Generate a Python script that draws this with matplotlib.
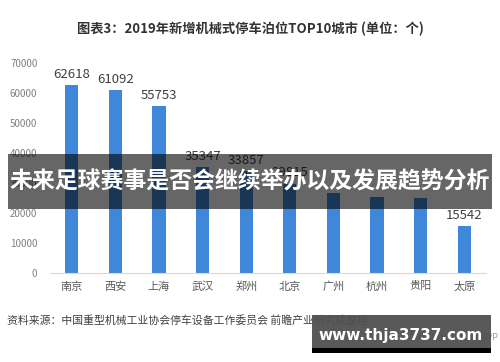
import matplotlib
matplotlib.use("Agg")
import matplotlib.pyplot as plt
from matplotlib.patches import Rectangle

plt.rcParams['font.family'] = ['Noto Sans CJK SC', 'DejaVu Sans']

cities = ["南京", "西安", "上海", "武汉", "郑州", "北京", "广州", "杭州", "贵阳", "太原"]
values = [62618, 61092, 55753, 35347, 33857, 29815, 26500, 25300, 25100, 15542]
label_shown = [True, True, True, True, True, True, False, False, False, True]
yticks = [0, 10000, 20000, 30000, 40000, 50000, 60000, 70000]

title = "图表3：2019年新增机械式停车泊位TOP10城市 (单位：个)"
source = "资料来源：中国重型机械工业协会停车设备工作委员会 前瞻产业研究院整理"
banner = "未来足球赛事是否会继续举办以及发展趋势分析"
watermark = "www.thja3737.com"

fig = plt.figure(figsize=(5, 3.62), dpi=100)
fig.patch.set_facecolor("white")
ax = fig.add_axes([0.1, 0.246, 0.872, 0.58])

x = range(len(cities))
bars = ax.bar(x, values, width=0.3, color="#3f87d9", zorder=2)
for xi, v, show in zip(x, values, label_shown):
    if show:
        ax.annotate(f"{v}", (xi, v), xytext=(0, 3), textcoords="offset points",
                    ha="center", va="bottom", fontsize=9.5, color="#404040")

ax.set_xlim(-0.5, len(cities) - 0.5)
ax.set_ylim(0, 70000)
ax.set_yticks(yticks)
ax.set_yticklabels([str(t) for t in yticks], fontsize=7, color="#808080")
ax.set_xticks(list(x))
ax.set_xticklabels(cities, fontsize=8, color="#595959")
ax.tick_params(axis="both", length=0)
ax.tick_params(axis="y", pad=9)
ax.tick_params(axis="x", pad=6)
for s in ["top", "right", "left"]:
    ax.spines[s].set_visible(False)
ax.spines["bottom"].set_color("#d9d9d9")

fig.text(0.5, 0.92, title, ha="center", va="center", fontsize=9.5,
         fontweight="bold", color="#333333")
fig.text(0.014, 0.116, source, ha="left", va="center", fontsize=7.8, color="#404040")
fig.text(0.998, 0.069, "APP", ha="right", va="center", fontsize=6.5, color="#999999")

# overlay banner
fig.patches.append(Rectangle((0.016, 0.4227), 0.968, 0.152, transform=fig.transFigure,
                             facecolor="black", alpha=0.6, edgecolor="none", zorder=10))
fig.text(0.5, 0.4986, banner, ha="center", va="center", fontsize=16.5,
         fontweight="bold", color="white", zorder=11)

# watermark box
fig.patches.append(Rectangle((0.624, 0.0249), 0.358, 0.105, transform=fig.transFigure,
                             facecolor="#505050", alpha=0.95, edgecolor="none", zorder=10))
fig.patches.append(Rectangle((0.624, 0.0249), 0.358, 0.014, transform=fig.transFigure,
                             facecolor="black", edgecolor="none", zorder=10))
fig.text(0.802, 0.072, watermark, ha="center", va="center", fontsize=11,
         fontweight="bold", color="white", family="DejaVu Sans", zorder=11)

fig.savefig("out.png", dpi=100)
